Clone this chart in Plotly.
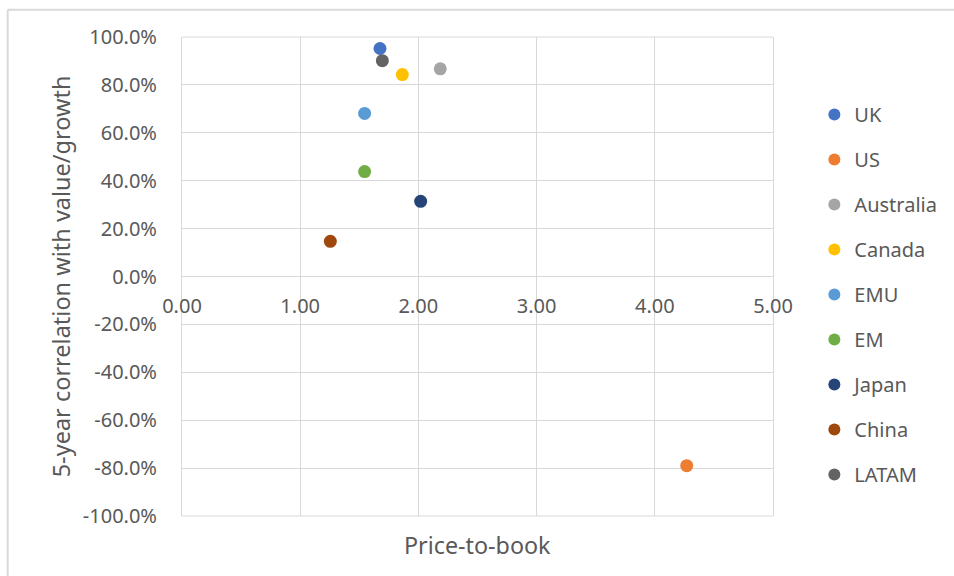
import plotly.graph_objects as go

countries = ["UK", "US", "Australia", "Canada", "EMU", "EM", "Japan", "China", "LATAM"]
price_to_book = [1.675, 4.27, 2.185, 1.864, 1.545, 1.545, 2.019, 1.255, 1.695]
correlation = [0.952, -0.79, 0.867, 0.843, 0.681, 0.438, 0.314, 0.147, 0.901]
colors = ["#4472C4", "#ED7D31", "#A5A5A5", "#FFC000", "#5B9BD5",
          "#70AD47", "#264478", "#9E480E", "#636363"]

y_tick_vals = [-1.0, -0.8, -0.6, -0.4, -0.2, 0.0, 0.2, 0.4, 0.6, 0.8, 1.0]
y_tick_text = ["-100.0%", "-80.0%", "-60.0%", "-40.0%", "-20.0%", "0.0%",
               "20.0%", "40.0%", "60.0%", "80.0%", "100.0%"]
x_tick_vals = [0, 1, 2, 3, 4, 5]
x_tick_text = ["0.00", "1.00", "2.00", "3.00", "4.00", "5.00"]

FONT = "Noto Sans"
GRID = "#d9d9d9"
TXT = "#595959"

fig = go.Figure()
for name, x, y, c in zip(countries, price_to_book, correlation, colors):
    fig.add_trace(go.Scatter(
        x=[x], y=[y], mode="markers", name=name, legendgroup=name,
        marker=dict(color=c, size=13, line=dict(width=0)),
    ))

fig.update_layout(
    width=954, height=576,
    margin=dict(l=182, r=181, t=37, b=60),
    paper_bgcolor="white", plot_bgcolor="white",
    font=dict(family=FONT, color=TXT, size=17),
    showlegend=True,
    legend=dict(
        x=1.07, y=0.879, xanchor="left", yanchor="top",
        font=dict(family=FONT, size=20, color=TXT),
        tracegroupgap=16, itemsizing="constant",
    ),
    xaxis=dict(
        range=[0, 5], tickvals=x_tick_vals, ticktext=x_tick_text,
        showgrid=True, gridcolor=GRID, gridwidth=1,
        zeroline=False, showline=False,
        anchor="free", position=0.5,
        ticks="", ticklabelstandoff=15,
        tickfont=dict(family=FONT, size=20, color=TXT),
    ),
    yaxis=dict(
        range=[-1, 1], tickvals=y_tick_vals, ticktext=y_tick_text,
        showgrid=True, gridcolor=GRID, gridwidth=1,
        zeroline=True, zerolinecolor=GRID, zerolinewidth=1,
        showline=True, linecolor=GRID, linewidth=1, mirror=True,
        ticks="", ticklabelstandoff=20,
        tickfont=dict(family=FONT, size=20, color=TXT),
    ),
    shapes=[
        dict(type="line", xref="paper", yref="paper", x0=0, x1=1, y0=0, y1=0,
             line=dict(color=GRID, width=1)),
        dict(type="line", xref="paper", yref="paper", x0=0, x1=1, y0=1, y1=1,
             line=dict(color=GRID, width=1)),
        dict(type="line", xref="paper", yref="paper", x0=-0.295, x1=1.4, y0=1.057, y1=1.057,
             line=dict(color=GRID, width=2)),
        dict(type="line", xref="paper", yref="paper", x0=-0.295, x1=-0.295, y0=1.057, y1=-0.2,
             line=dict(color=GRID, width=2)),
    ],
    annotations=[
        dict(text="Price-to-book", xref="paper", yref="paper", x=0.5, y=-0.022,
             xanchor="center", yanchor="top", showarrow=False,
             font=dict(family=FONT, size=23.3, color=TXT)),
        dict(text="5-year correlation with value/growth", xref="paper", yref="paper",
             x=-0.205, y=0.5, xanchor="center", yanchor="middle", textangle=-90,
             showarrow=False, font=dict(family=FONT, size=23.5, color=TXT)),
    ],
)

fig.write_html("out.html")
